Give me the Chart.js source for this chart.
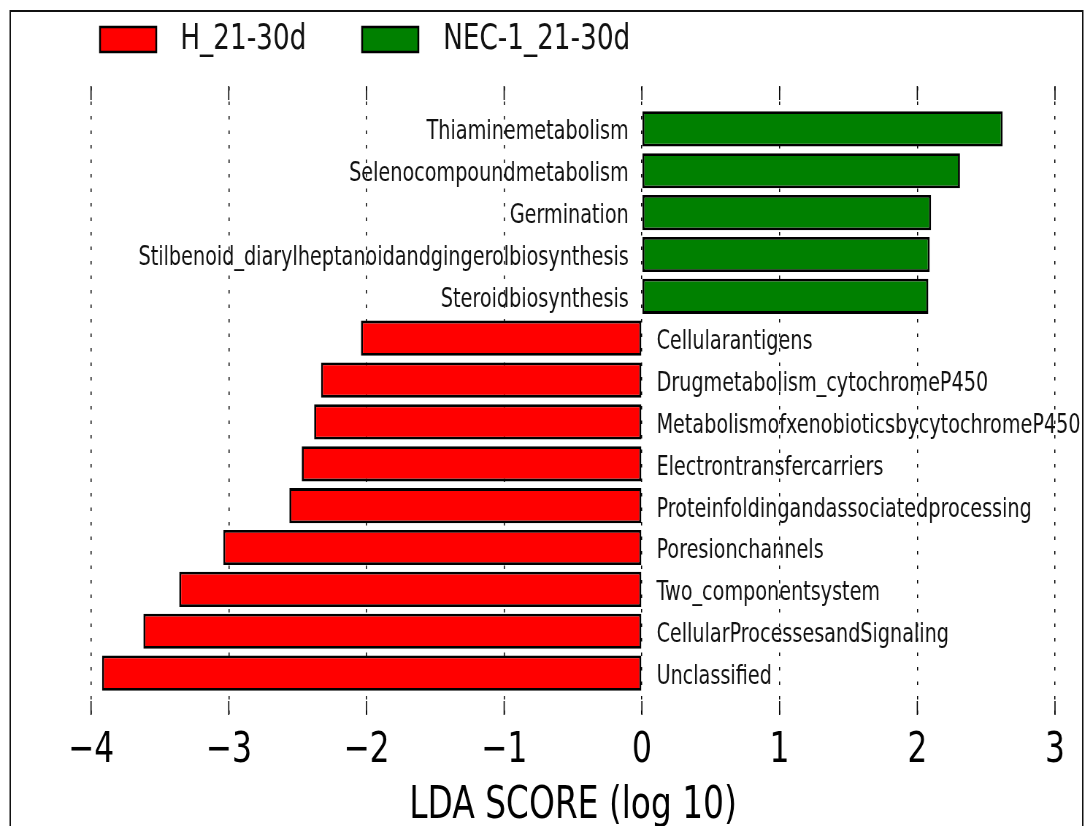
<!DOCTYPE html>
<html>
<head>
<meta charset="utf-8">
<script src="https://cdn.jsdelivr.net/npm/chart.js@4.4.1/dist/chart.umd.min.js"></script>
<style>
  html, body { margin: 0; padding: 0; overflow: hidden; background: #fff; }
  /* the reference is squeezed horizontally, so draw wide and squeeze */
  #wrap { width: 1486px; height: 826px; transform: scaleX(0.7301); transform-origin: 0 0; }
</style>
</head>
<body>
<div id="wrap"><canvas id="ldaChart" width="1486" height="826"></canvas></div>
<script>
// LDA data, top to bottom
const categories = [
  'Thiaminemetabolism',
  'Selenocompoundmetabolism',
  'Germination',
  'Stilbenoid_diarylheptanoidandgingerolbiosynthesis',
  'Steroidbiosynthesis',
  'Cellularantigens',
  'Drugmetabolism_cytochromeP450',
  'MetabolismofxenobioticsbycytochromeP450',
  'Electrontransfercarriers',
  'Proteinfoldingandassociatedprocessing',
  'Poresionchannels',
  'Two_componentsystem',
  'CellularProcessesandSignaling',
  'Unclassified'
];
const scores = [2.62, 2.31, 2.10, 2.09, 2.08, -2.04, -2.33, -2.38, -2.47, -2.56, -3.04, -3.36, -3.62, -3.92];
const groups = [1, 1, 1, 1, 1, 0, 0, 0, 0, 0, 0, 0, 0, 0];
const groupNames = ['H_21-30d', 'NEC-1_21-30d'];
const groupColors = ['#ff0000', '#008000'];

const FONT = '"DejaVu Sans", sans-serif';

// pathway names next to the bars
const barLabels = {
  id: 'barLabels',
  afterDatasetsDraw(chart) {
    const ctx = chart.ctx;
    const meta = chart.getDatasetMeta(0);
    const x0 = chart.scales.x.getPixelForValue(0);
    ctx.save();
    ctx.font = '26.3px ' + FONT;
    ctx.fillStyle = '#111';
    ctx.textBaseline = 'middle';
    meta.data.forEach((bar, i) => {
      if (scores[i] >= 0) {
        ctx.textAlign = 'right';
        ctx.fillText(categories[i], x0 - 18, bar.y + 3.5);
      } else {
        ctx.textAlign = 'left';
        ctx.fillText(categories[i], x0 + 20, bar.y + 4);
      }
    });
    ctx.restore();
  }
};

// solid tick marks, legend and outer frame
const extras = {
  id: 'extras',
  afterDraw(chart) {
    const ctx = chart.ctx;
    const xs = chart.scales.x;
    const {top, bottom} = chart.chartArea;
    ctx.save();
    ctx.strokeStyle = '#000';
    ctx.lineWidth = 1.6;
    xs.ticks.forEach(t => {
      const px = xs.getPixelForValue(t.value);
      ctx.beginPath();
      ctx.moveTo(px, top - 1); ctx.lineTo(px, top + 13);
      ctx.moveTo(px, bottom - 14); ctx.lineTo(px, bottom);
      ctx.stroke();
    });

    // legend
    const items = [{x: 137, tx: 247}, {x: 496, tx: 607}];
    ctx.font = '36px ' + FONT;
    ctx.textBaseline = 'middle';
    ctx.textAlign = 'left';
    items.forEach((it, i) => {
      ctx.fillStyle = groupColors[i];
      ctx.fillRect(it.x, 27, 77, 25);
      ctx.lineWidth = 2.5;
      ctx.strokeRect(it.x, 27, 77, 25);
      ctx.fillStyle = '#111';
      ctx.fillText(groupNames[i], it.tx, 40);
    });

    // frame
    ctx.lineWidth = 2;
    ctx.strokeStyle = '#111';
    ctx.strokeRect(14, 11, 1469, 900);
    ctx.restore();
  }
};

new Chart(document.getElementById('ldaChart'), {
  type: 'bar',
  data: {
    datasets: [{
      data: scores.map((v, i) => ({x: v, y: i})),
      backgroundColor: groups.map(g => groupColors[g]),
      borderColor: '#000',
      borderWidth: 2.8,
      borderSkipped: false,
      barPercentage: 0.84,
      categoryPercentage: 1
    }]
  },
  options: {
    indexAxis: 'y',
    responsive: false,
    animation: false,
    layout: { padding: { left: 96.4, right: 12.7, top: 87, bottom: 1.2 } },
    plugins: { legend: { display: false }, tooltip: { enabled: false } },
    scales: {
      x: {
        type: 'linear',
        min: -4.15,
        max: 3.15,
        z: 1,
        border: { display: false, dash: [3.5, 11] },
        grid: {
          color: '#000',
          lineWidth: 1.5,
          drawTicks: false
        },
        ticks: {
          stepSize: 1,
          includeBounds: false,
          padding: 14,
          color: '#000',
          font: { family: FONT, size: 43, lineHeight: 1 },
          callback: v => (v < 0 ? '\u2212' + Math.abs(v) : String(v))
        },
        title: {
          display: true,
          text: 'LDA SCORE (log 10)',
          color: '#000',
          font: { family: FONT, size: 45, lineHeight: 0.8 },
          padding: { top: 2.8, bottom: 0 }
        }
      },
      y: {
        type: 'linear',
        min: -1,
        max: 14,
        offset: false,
        reverse: true,
        display: false
      }
    }
  },
  plugins: [barLabels, extras]
});
</script>
</body>
</html>
